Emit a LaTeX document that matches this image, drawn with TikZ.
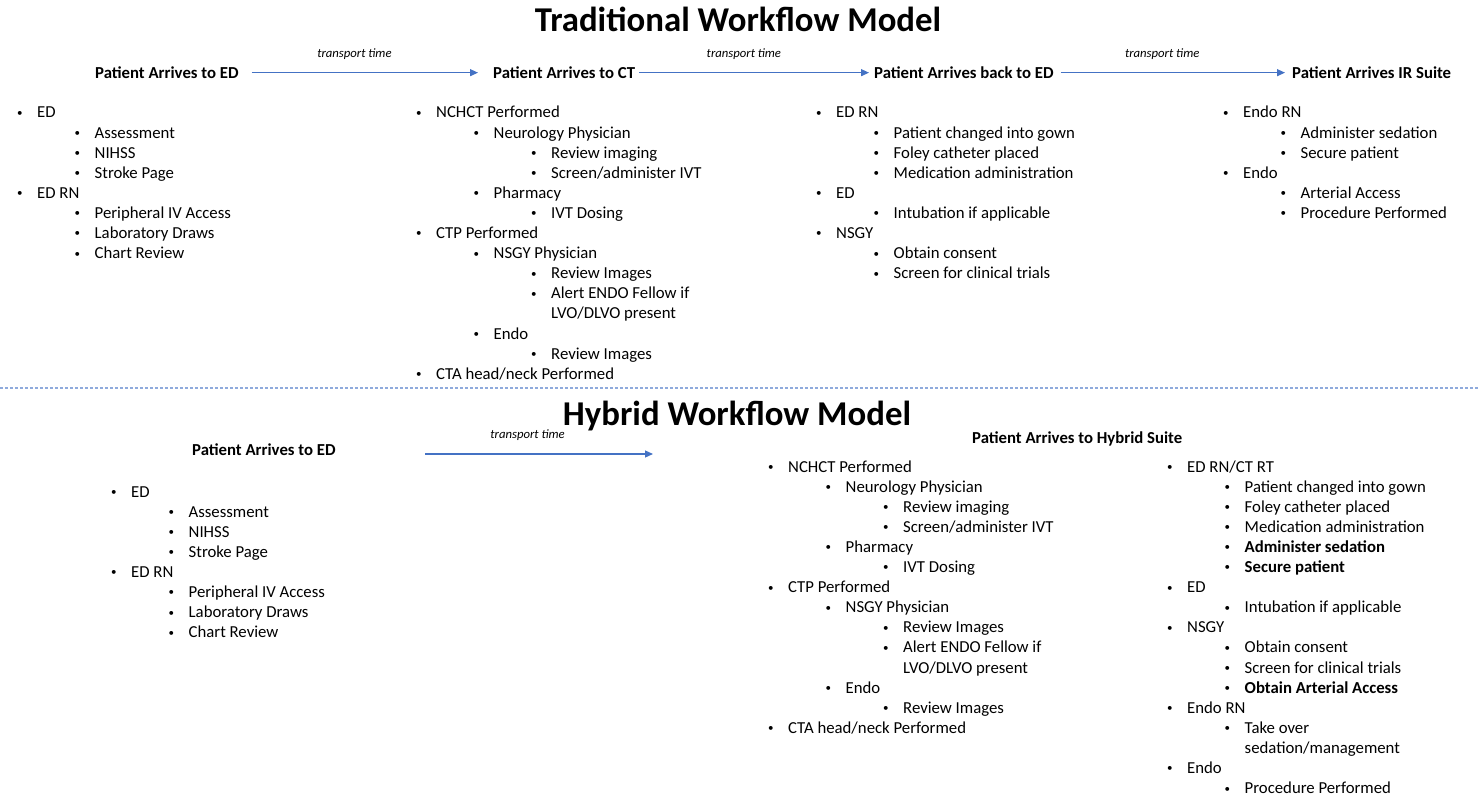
\documentclass[tikz,border=0pt]{standalone}
\usepackage{fontspec}
\setmainfont{Carlito}
\usetikzlibrary{arrows.meta}
\definecolor{flowblue}{RGB}{68,114,196}
\definecolor{sepblue}{RGB}{143,170,220}
\newcommand{\bl}{\makebox[20pt][l]{\raisebox{1.6pt}{\fontsize{11}{11}\selectfont\textbullet}}}
\newcommand{\cn}{\hspace*{20pt}}
\tikzset{
  item/.style={anchor=base west, inner sep=0pt, font=\fontsize{16.75}{20}\selectfont},
  stage/.style={anchor=base west, inner sep=0pt, font=\fontsize{16.75}{20}\selectfont\bfseries},
  model/.style={anchor=base, inner sep=0pt, font=\fontsize{34.8}{40}\selectfont\bfseries},
  transport/.style={-{Triangle[length=8pt,width=7pt]}, draw=flowblue, fill=flowblue, line width=1.2pt},
  ttime/.style={font=\fontsize{12.7}{14}\selectfont\itshape, above=13pt, inner sep=0pt, text=black},
  sepline/.style={sepblue, line width=1.5pt, dash pattern=on 3pt off 2pt}
}
\begin{document}
\begin{tikzpicture}[x=1pt,y=-1pt]
\useasboundingbox (0,0) rectangle (1480,802);
% traditional model
\node[model] (trad) at (738,32) {Traditional Workflow Model};
\node[stage] (ed) at (95,78.5) {Patient Arrives to ED};
\node[stage] (ct) at (493,78.5) {Patient Arrives to CT};
\node[stage] (bed) at (874,78.5) {Patient Arrives back to ED};
\node[stage] (ir) at (1292,78.5) {Patient Arrives IR Suite};
\draw[transport, shorten <=13pt, shorten >=15pt] (ed.east) -- node[ttime, pos=0.455] (tt1) {transport time} (ct.west);
\draw[transport, shorten <=4pt, shorten >=5pt] (ct.east) -- node[ttime, pos=0.455] (tt2) {transport time} (bed.west);
\draw[transport, shorten <=7pt, shorten >=7pt] (bed.east) -- node[ttime, pos=0.455] (tt3) {transport time} (ir.west);
\foreach \lv/\txt [count=\i] in {0/{\bl ED},1/{\bl Assessment},1/{\bl NIHSS},1/{\bl Stroke Page},
  0/{\bl ED RN},1/{\bl Peripheral IV Access},1/{\bl Laboratory Draws},1/{\bl Chart Review}}
  \node[item] (ted\i) at ({17+57.5*\lv},{97.9+20.1*\i}) {\txt};
\foreach \lv/\txt [count=\i] in {0/{\bl NCHCT Performed},1/{\bl Neurology Physician},2/{\bl Review imaging},
  2/{\bl Screen/administer IVT},1/{\bl Pharmacy},2/{\bl IVT Dosing},0/{\bl CTP Performed},
  1/{\bl NSGY Physician},2/{\bl Review Images},2/{\bl Alert ENDO Fellow if},2/{\cn LVO/DLVO present},
  1/{\bl Endo},2/{\bl Review Images},0/{\bl CTA head/neck Performed}}
  \node[item] (tct\i) at ({416+57.5*\lv},{97.9+20.1*\i}) {\txt};
\foreach \lv/\txt [count=\i] in {0/{\bl ED RN},1/{\bl Patient changed into gown},1/{\bl Foley catheter placed},
  1/{\bl Medication administration},0/{\bl ED},1/{\bl Intubation if applicable},0/{\bl NSGY},
  1/{\bl Obtain consent},1/{\bl Screen for clinical trials}}
  \node[item] (tbed\i) at ({816+57.5*\lv},{97.9+20.1*\i}) {\txt};
\foreach \lv/\txt [count=\i] in {0/{\bl Endo RN},1/{\bl Administer sedation},1/{\bl Secure patient},
  0/{\bl Endo},1/{\bl Arterial Access},1/{\bl Procedure Performed}}
  \node[item] (tir\i) at ({1223+57.5*\lv},{97.9+20.1*\i}) {\txt};
% separator
\draw[sepline] (0,388) -- (1480,388);
% hybrid model
\node[model] (hyb) at (737,425) {Hybrid Workflow Model};
\node[stage] (hed) at (192,455) {Patient Arrives to ED};
\node[stage] (suite) at (972,443) {Patient Arrives to Hybrid Suite};
\coordinate (ha) at (425,454);
\coordinate (hb) at (653,454);
\draw[transport] (ha) -- node[ttime, pos=0.45] (tt4) {transport time} (hb);
\foreach \lv/\txt [count=\i] in {0/{\bl ED},1/{\bl Assessment},1/{\bl NIHSS},1/{\bl Stroke Page},
  0/{\bl ED RN},1/{\bl Peripheral IV Access},1/{\bl Laboratory Draws},1/{\bl Chart Review}}
  \node[item] (hed\i) at ({111+57.5*\lv},{476.9+20.1*\i}) {\txt};
\foreach \lv/\txt [count=\i] in {0/{\bl NCHCT Performed},1/{\bl Neurology Physician},2/{\bl Review imaging},
  2/{\bl Screen/administer IVT},1/{\bl Pharmacy},2/{\bl IVT Dosing},0/{\bl CTP Performed},
  1/{\bl NSGY Physician},2/{\bl Review Images},2/{\bl Alert ENDO Fellow if},2/{\cn LVO/DLVO present},
  1/{\bl Endo},2/{\bl Review Images},0/{\bl CTA head/neck Performed}}
  \node[item] (hct\i) at ({768+57.5*\lv},{451.9+20.1*\i}) {\txt};
\foreach \lv/\txt [count=\i] in {0/{\bl ED RN/CT RT},1/{\bl Patient changed into gown},1/{\bl Foley catheter placed},
  1/{\bl Medication administration},1/{\bl\textbf{Administer sedation}},1/{\bl\textbf{Secure patient}},
  0/{\bl ED},1/{\bl Intubation if applicable},0/{\bl NSGY},1/{\bl Obtain consent},
  1/{\bl Screen for clinical trials},1/{\bl\textbf{Obtain Arterial Access}},0/{\bl Endo RN},
  1/{\bl Take over},1/{\cn sedation/management},0/{\bl Endo},1/{\bl Procedure Performed}}
  \node[item] (hst\i) at ({1167+57.5*\lv},{451.9+20.1*\i}) {\txt};
\end{tikzpicture}
\end{document}
